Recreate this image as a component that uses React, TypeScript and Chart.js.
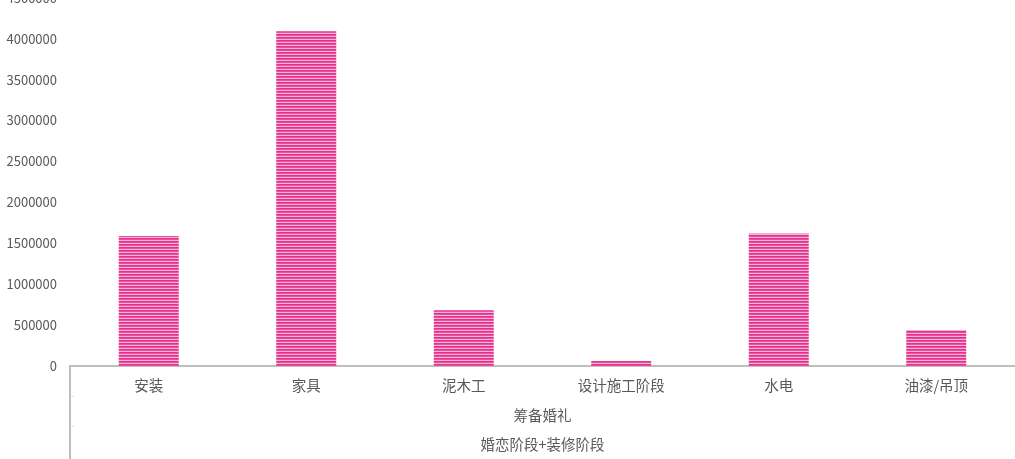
import { useEffect, useRef } from "react";
import { Chart, registerables } from "chart.js";

Chart.register(...registerables);

const categories = ["安装", "家具", "泥木工", "设计施工阶段", "水电", "油漆/吊顶"];
const values = [1590000, 4090000, 680000, 60000, 1620000, 440000];
const groupLabel = ["筹备婚礼"];
const stageLabel = ["婚恋阶段+装修阶段"];

const FONT = '"Noto Sans CJK SC", "Noto Sans", sans-serif';
const TEXT = "#595959";
const LINE = "#BFBFBF";

function makeStripes() {
  const c = document.createElement("canvas");
  c.width = 4;
  c.height = 3;
  const g = c.getContext("2d")!;
  const rows = ["#E4318D", "#EA4F9F", "#F7B5D6"];
  rows.forEach((col, i) => {
    g.fillStyle = col;
    g.fillRect(0, i, 4, 1);
  });
  return g.createPattern(c, "repeat")!;
}

// left border of the multi-level category axis
const groupLines = {
  id: "groupLines",
  afterDraw(chart: Chart) {
    const { ctx, chartArea } = chart;
    const x2 = chart.scales.x2;
    const x3 = chart.scales.x3;
    const left = Math.round(chartArea.left);
    ctx.save();
    ctx.fillStyle = LINE;
    ctx.fillRect(left - 1, chartArea.bottom, 2, chart.height - chartArea.bottom);
    ctx.fillStyle = "#E3E3E3";
    [x2.top, x3.top].forEach((y) => {
      ctx.fillRect(left + 1, Math.round(y), 3, 1);
    });
    ctx.restore();
  },
};

export default function App() {
  const canvasRef = useRef<HTMLCanvasElement | null>(null);

  useEffect(() => {
    if (!canvasRef.current) return;
    const chart = new Chart(canvasRef.current.getContext("2d")!, {
      type: "bar",
      data: {
        labels: categories,
        datasets: [
          {
            data: values,
            backgroundColor: makeStripes(),
            borderWidth: 0,
            categoryPercentage: 1,
            barPercentage: 0.381,
          },
        ],
      },
      options: {
        animation: false,
        responsive: true,
        maintainAspectRatio: false,
        layout: { padding: 0 },
        plugins: { legend: { display: false }, tooltip: { enabled: false } },
        scales: {
          y: {
            min: 0,
            max: 4500000,
            ticks: {
              stepSize: 500000,
              color: TEXT,
              padding: 13,
              font: { family: FONT, size: 13 },
              callback: (v: any) => String(v),
            },
            grid: { display: false, drawTicks: false },
            border: { display: false },
            afterFit: (s: any) => {
              s.width = 70;
            },
          },
          x: {
            position: "bottom",
            ticks: {
              color: TEXT,
              padding: 11,
              font: { family: FONT, size: 14.5 },
            },
            grid: { display: true, drawOnChartArea: false, drawTicks: false },
            border: { display: true, color: LINE, width: 2 },
            afterFit: (s: any) => {
              s.height = 30;
            },
          },
          x2: {
            type: "category",
            position: "bottom",
            labels: groupLabel,
            offset: true,
            ticks: {
              color: TEXT,
              padding: 11,
              font: { family: FONT, size: 14.5 },
            },
            grid: { display: false, drawTicks: false },
            border: { display: false },
            afterFit: (s: any) => {
              s.height = 30;
            },
          },
          x3: {
            type: "category",
            position: "bottom",
            labels: stageLabel,
            offset: true,
            ticks: {
              color: TEXT,
              padding: 10,
              font: { family: FONT, size: 14.5 },
            },
            grid: { display: false, drawTicks: false },
            border: { display: false },
            afterFit: (s: any) => {
              s.height = 33;
            },
          },
        },
      },
      plugins: [groupLines],
    });
    return () => chart.destroy();
  }, []);

  return (
    <div
      style={{
        position: "fixed",
        left: 0,
        top: 0,
        width: 1015,
        height: 459,
        overflow: "hidden",
        background: "#fff",
      }}
    >
      <div style={{ position: "absolute", left: 0, top: -23, width: 1015, height: 482 }}>
        <canvas ref={canvasRef}></canvas>
      </div>
    </div>
  );
}
